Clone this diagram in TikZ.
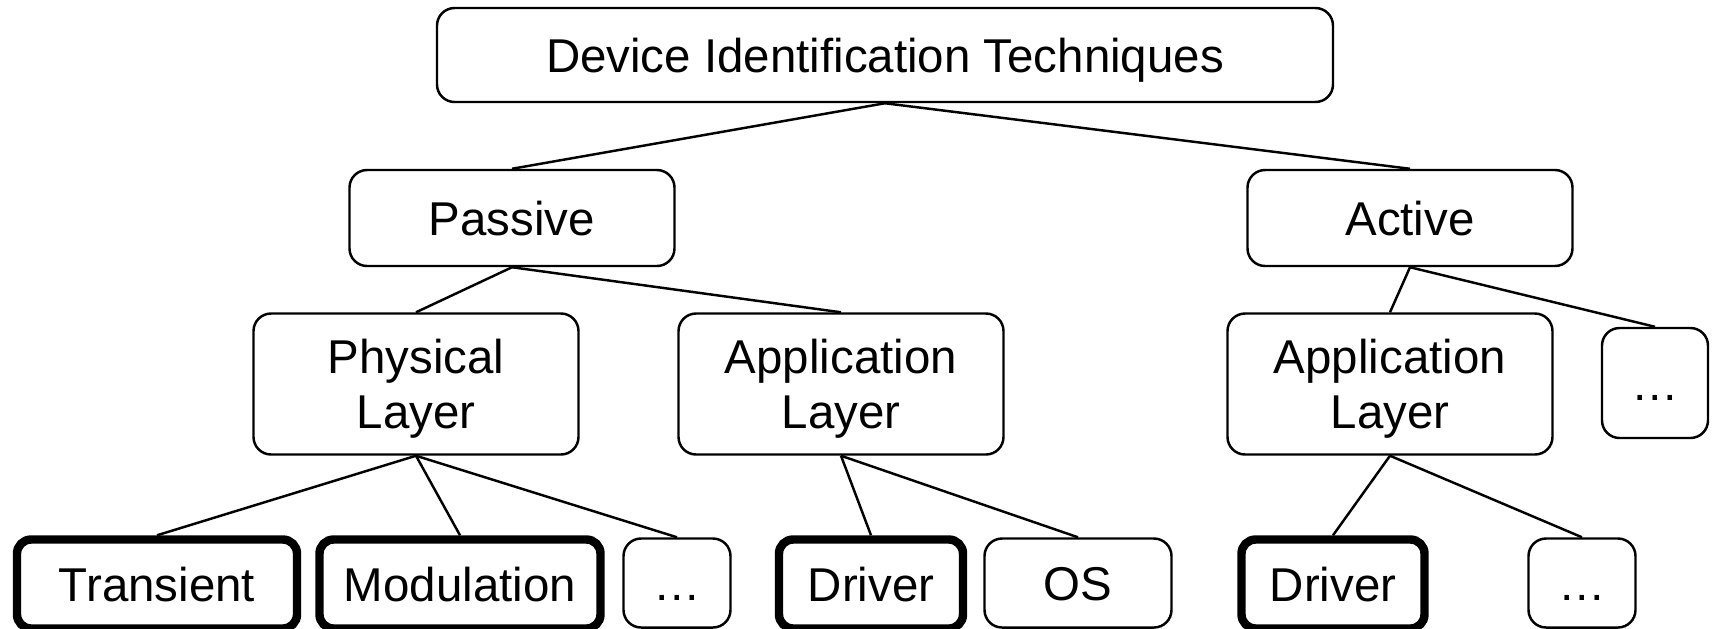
\documentclass[tikz,border=0pt]{standalone}
\usepackage{fontspec}
\setmainfont{Liberation Sans}
\usetikzlibrary{positioning}

\begin{document}
\begin{tikzpicture}[
  font=\fontsize{13.5}{15.8}\selectfont,
  box/.style={draw=black, rounded corners=5pt, line width=0.7pt, align=center, inner sep=0pt,
    text height=12.5pt, text depth=2.8pt},
  twoline/.style={text height=28.2pt, text depth=2.8pt},
  keybox/.style={box, line width=2.4pt, rounded corners=4pt},
  link/.style={draw=black, line width=0.7pt}
]
  \useasboundingbox (0,0) rectangle (17.17,-6.28);
  % top levels
  \node[box, minimum width=8.96cm, minimum height=0.94cm] (root) at (8.85,-0.55) {Device Identification Techniques};
  \node[box, minimum width=3.25cm, minimum height=0.96cm] (passive) at (5.12,-2.18) {Passive};
  \node[box, minimum width=3.25cm, minimum height=0.96cm] (active) at (14.10,-2.18) {Active};
  % layers
  \node[box, twoline, minimum width=3.25cm, minimum height=1.41cm] (phys) at (4.16,-3.84) {Physical\\ Layer};
  \node[box, twoline, minimum width=3.25cm, minimum height=1.41cm] (appP) at (8.41,-3.84) {Application\\ Layer};
  \node[box, twoline, minimum width=3.25cm, minimum height=1.41cm] (appA) at (13.90,-3.84) {Application\\ Layer};
  \node[box, minimum width=1.06cm, minimum height=1.10cm] (dotsA) at (16.55,-3.83) {…};
  % leaves
  \node[keybox, minimum width=2.80cm, minimum height=0.89cm] (trans) at (1.57,-5.84) {Transient};
  \node[keybox, minimum width=2.81cm, minimum height=0.89cm] (modul) at (4.60,-5.84) {Modulation};
  \node[box, minimum width=1.07cm, minimum height=0.89cm] (dotsP) at (6.77,-5.83) {…};
  \node[keybox, minimum width=1.84cm, minimum height=0.89cm] (drvP) at (8.71,-5.84) {Driver};
  \node[box, minimum width=1.87cm, minimum height=0.89cm] (os) at (10.78,-5.83) {OS};
  \node[keybox, minimum width=1.83cm, minimum height=0.89cm] (drvA) at (13.33,-5.84) {Driver};
  \node[box, minimum width=1.07cm, minimum height=0.89cm] (dotsB) at (15.82,-5.83) {…};
  % links
  \draw[link] (root.south) -- (passive.north);
  \draw[link] (root.south) -- (active.north);
  \draw[link] (passive.south) -- (phys.north);
  \draw[link] (passive.south) -- (appP.north);
  \draw[link] (active.south) -- (appA.north);
  \draw[link] (active.south) -- (dotsA.north);
  \draw[link] (phys.south) -- (trans.north);
  \draw[link] (phys.south) -- (modul.north);
  \draw[link] (phys.south) -- (dotsP.north);
  \draw[link] (appP.south) -- (drvP.north);
  \draw[link] (appP.south) -- (os.north);
  \draw[link] (appA.south) -- (drvA.north);
  \draw[link] (appA.south) -- (dotsB.north);
\end{tikzpicture}
\end{document}
